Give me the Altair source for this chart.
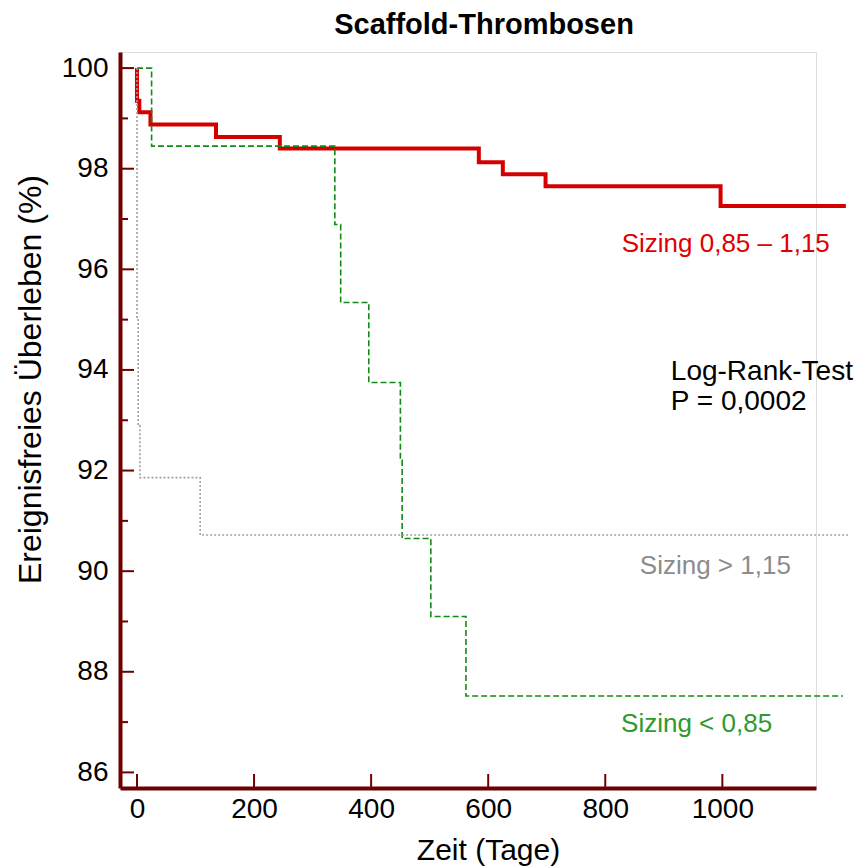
import altair as alt
import pandas as pd

# --- data -------------------------------------------------------------------
red_days = [0, 0, 4, 23, 135, 244, 584, 625, 698, 997, 1211]
red_surv = [100, 99.35, 99.12, 98.88, 98.63, 98.40, 98.13, 97.89, 97.65, 97.26, 97.26]

green_days = [0, 25, 338, 348, 396, 450, 453, 502, 562, 1206]
green_surv = [100, 98.45, 96.89, 95.34, 93.75, 92.21, 90.65, 89.10, 87.52, 87.52]

gray_days = [0, 0, 2, 5, 108, 1218]
gray_surv = [100, 95.05, 92.9, 91.86, 90.72, 90.72]

y_major = [86, 88, 90, 92, 94, 96, 98, 100]
y_minor = [87, 89, 91, 93, 95, 97, 99]
x_major = [0, 200, 400, 600, 800, 1000]

FONT = "Liberation Sans"
AXIS_COL = "#6e0000"

def series(days, surv):
    return pd.DataFrame({"t": days, "s": surv, "i": list(range(len(days)))})

x_scale = alt.Scale(domain=[-29, 1160], nice=False, zero=False)
y_scale = alt.Scale(domain=[85.69, 100.32], nice=False, zero=False)

x_enc = alt.X("t:Q", scale=x_scale,
              axis=alt.Axis(values=x_major, format="d", ticks=False, grid=False,
                            domainColor=AXIS_COL, domainWidth=4,
                            labelFont=FONT, labelFontSize=28, labelColor="black",
                            labelPadding=7, title="Zeit (Tage)",
                            titleFont=FONT, titleFontSize=30, titleFontWeight="normal",
                            titleColor="black", titleX=368, titlePadding=12))
y_enc = alt.Y("s:Q", scale=y_scale,
              axis=alt.Axis(values=y_major, format="d", ticks=False, grid=False,
                            domainColor=AXIS_COL, domainWidth=4,
                            labelFont=FONT, labelFontSize=28, labelColor="black",
                            labelPadding=12, title="Ereignisfreies Überleben (%)",
                            titleFont=FONT, titleFontSize=32, titleFontWeight="normal",
                            titleColor="black", titleY=327, titlePadding=14))

red = alt.Chart(series(red_days, red_surv)).mark_line(
    interpolate="step-after", color="#d40000", strokeWidth=4
).encode(x=x_enc, y=y_enc, order=alt.Order("i:Q"))

green = alt.Chart(series(green_days, green_surv)).mark_line(
    interpolate="step-after", color="#138a13", strokeWidth=1.6, strokeDash=[6, 3]
).encode(x=alt.X("t:Q", scale=x_scale), y=alt.Y("s:Q", scale=y_scale), order=alt.Order("i:Q"))

gray = alt.Chart(series(gray_days, gray_surv)).mark_line(
    interpolate="step-after", color="#a0a0a0", strokeWidth=1.6, strokeDash=[2, 2]
).encode(x=alt.X("t:Q", scale=x_scale), y=alt.Y("s:Q", scale=y_scale), order=alt.Order("i:Q"))

# inward ticks
ymaj = alt.Chart(pd.DataFrame({"v": y_major})).mark_rule(color=AXIS_COL, strokeWidth=2).encode(
    y=alt.Y("v:Q", scale=y_scale), x=alt.value(0), x2=alt.value(14))
ymin = alt.Chart(pd.DataFrame({"v": y_minor})).mark_rule(color=AXIS_COL, strokeWidth=2).encode(
    y=alt.Y("v:Q", scale=y_scale), x=alt.value(0), x2=alt.value(8))
xmaj = alt.Chart(pd.DataFrame({"v": x_major})).mark_rule(color=AXIS_COL, strokeWidth=2).encode(
    x=alt.X("v:Q", scale=x_scale), y=alt.value(736), y2=alt.value(722))

def label(text, tx, sy, color, size=26):
    return alt.Chart(pd.DataFrame({"a": [0]})).mark_text(
        text=text, align="left", baseline="middle", font=FONT, fontSize=size, color=color
    ).encode(x=alt.datum(tx, scale=x_scale), y=alt.datum(sy, scale=y_scale))

lab_red = label("Sizing 0,85 – 1,15", 828, 96.5, "#e00000")
lab_gray = label("Sizing > 1,15", 859, 90.10, "#8c8c8c")
lab_green = label("Sizing < 0,85", 827, 86.96, "#2e9a2e")
lab_lr = label("Log-Rank-Test", 912, 93.96, "black", 28)
lab_p = label("P = 0,0002", 912, 93.36, "black", 28)

chart = alt.layer(
    red, green, gray, ymaj, ymin, xmaj,
    lab_red, lab_gray, lab_green, lab_lr, lab_p
).properties(
    width=696, height=736,
    title=alt.TitleParams("Scaffold-Thrombosen", font=FONT, fontSize=29, fontWeight="bold",
                          color="black", anchor="middle", dx=16, offset=12),
    autosize=alt.AutoSizeParams(type="none"),
    padding={"left": 120, "top": 52, "right": 45, "bottom": 79},
).configure_view(stroke=None).configure(background="white")

chart.save("out.html", embed_options={"renderer": "svg", "actions": False})
